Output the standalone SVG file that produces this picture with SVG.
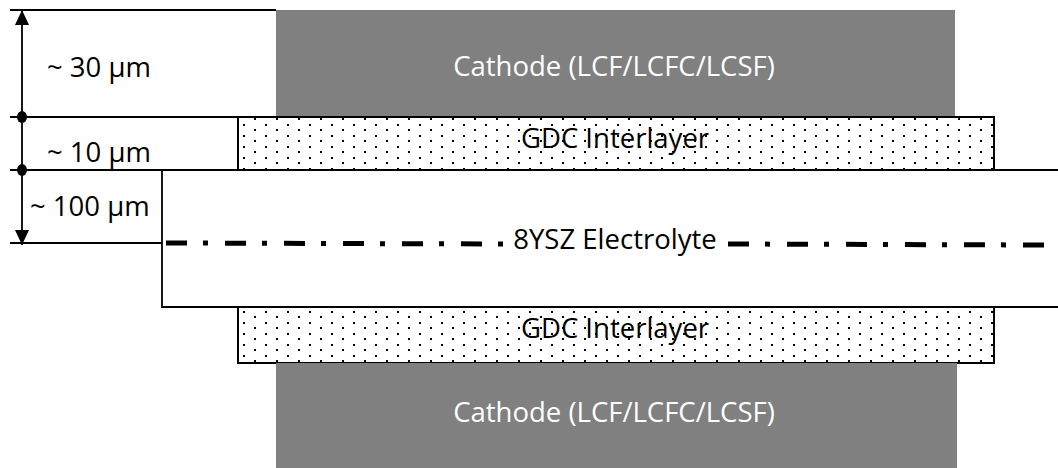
<svg xmlns="http://www.w3.org/2000/svg" width="1058" height="468" viewBox="0 0 1058 468">
  <style>
    .cat { fill: #808080; }
    .gdc { fill: url(#dots); stroke: #000; stroke-width: 2; }
    .ln { stroke: #000; stroke-width: 1.8; fill: none; }
    .t { font-family: "Open Sans", "Liberation Sans", sans-serif; font-size: 27.5px; }
    .tw { fill: #fff; text-anchor: middle; }
    .tb { fill: #000; text-anchor: middle; }
    .td { fill: #000; }
    .dash { stroke: #000; stroke-width: 5; stroke-dasharray: 21 16 5 17; fill: none; }
  </style>
  <defs>
    <pattern id="dots" patternUnits="userSpaceOnUse" x="243" y="118" width="22" height="11">
      <rect width="22" height="11" fill="#fff"/>
      <rect x="11" y="0" width="2" height="2" fill="#000" shape-rendering="crispEdges"/>
      <rect x="0" y="6" width="2" height="2" fill="#000" shape-rendering="crispEdges"/>
    </pattern>
    <marker id="arr" viewBox="0 0 15 14" refX="15" refY="7" markerWidth="15" markerHeight="14" markerUnits="userSpaceOnUse" orient="auto">
      <path d="M0,0 L15,7 L0,14 Z" fill="#000"/>
    </marker>
  </defs>

  <g id="cathode-top">
    <rect class="cat" x="276" y="10" width="679" height="107"/>
    <text class="t tw" x="614" y="76">Cathode (LCF/LCFC/LCSF)</text>
  </g>

  <g id="electrolyte">
    <path class="ln" d="M1058,170 H162 V307 H1058"/>
    <line class="dash" x1="166" y1="243" x2="505" y2="244"/>
    <line class="dash" x1="728" y1="244" x2="1044" y2="245"/>
    <text class="t tb" x="615" y="249">8YSZ Electrolyte</text>
  </g>

  <g id="gdc-top">
    <rect class="gdc" x="238" y="117" width="756" height="53"/>
    <text class="t tb" x="615" y="148">GDC Interlayer</text>
  </g>

  <g id="gdc-bottom">
    <rect class="gdc" x="238" y="307" width="756" height="56"/>
    <text class="t tb" x="615" y="338">GDC Interlayer</text>
  </g>

  <g id="cathode-bottom">
    <rect class="cat" x="276" y="363" width="681" height="105"/>
    <text class="t tw" x="614" y="422">Cathode (LCF/LCFC/LCSF)</text>
  </g>

  <g id="connectors">
    <line class="ln" x1="10" y1="10" x2="276" y2="10"/>
    <line class="ln" x1="10" y1="117" x2="238" y2="117"/>
    <line class="ln" x1="10" y1="170" x2="162" y2="170"/>
    <line class="ln" x1="10" y1="243" x2="162" y2="243"/>
    <line class="ln" x1="22" y1="117" x2="22" y2="10" marker-end="url(#arr)"/>
    <line class="ln" x1="22" y1="117" x2="22" y2="170"/>
    <line class="ln" x1="22" y1="170" x2="22" y2="245" marker-end="url(#arr)"/>
    <ellipse cx="22" cy="117" rx="5" ry="6" fill="#000"/>
    <ellipse cx="22" cy="170" rx="5" ry="6" fill="#000"/>
  </g>

  <g id="dimension-labels">
    <text class="t td" x="47" y="77">~ 30 µm</text>
    <text class="t td" x="47" y="162">~ 10 µm</text>
    <text class="t td" x="30" y="216">~ 100 µm</text>
  </g>
</svg>
